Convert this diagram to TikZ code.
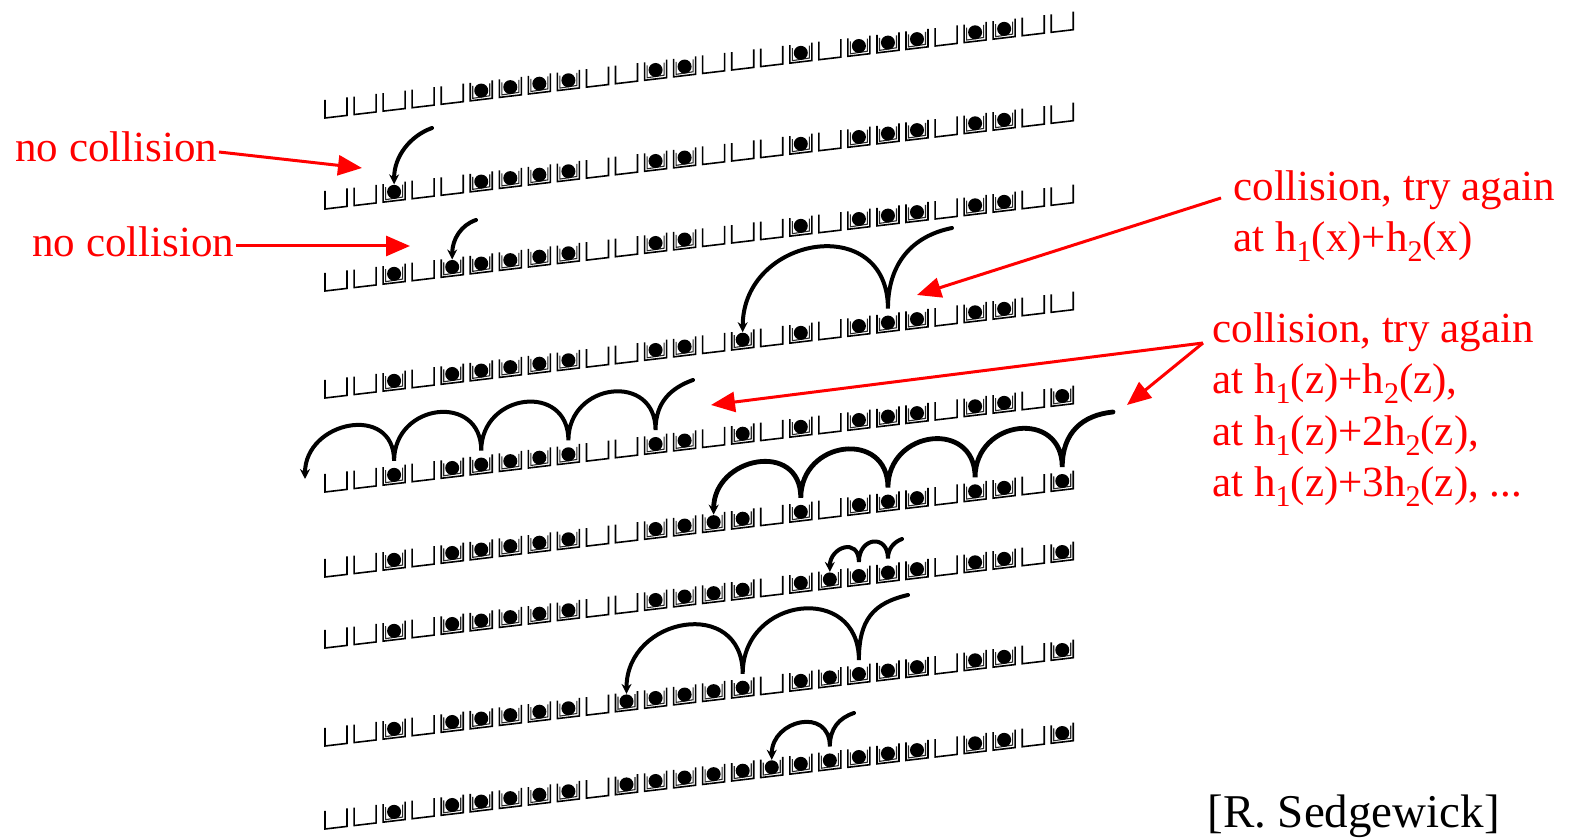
\documentclass[tikz,border=0pt]{standalone}
\usepackage{fontspec}
\setmainfont{Liberation Serif}
\usetikzlibrary{arrows.meta}

\newcommand\sbs[1]{\raisebox{-5pt}{\fontsize{15}{15}\selectfont #1}}

\tikzset{
  cellline/.style={line width=0.8pt, black},
  innerline/.style={line width=0.55pt, black!85},
  probe/.style={line width=2pt, black, line cap=round, -{Stealth[length=5pt,width=5pt]}},
  redarrow/.style={line width=1.5pt, red, -{Triangle[length=12pt,width=10pt]}},
  redtext/.style={text=red, inner sep=0pt, anchor=base west, font=\fontsize{21.5}{25.5}\selectfont},
}

\newcommand\hashrow[3]{%
  \foreach \i in {1,...,26}{%
    \pgfmathsetmacro\xa{325+29.05*(\i-1)}%
    \pgfmathsetmacro\xb{\xa+22}%
    \pgfmathsetmacro\ya{#2-0.118*(\xa-325)}%
    \pgfmathsetmacro\yb{#2-0.118*(\xb-325)}%
    \pgfmathsetmacro\xc{\xa+11}%
    \pgfmathsetmacro\yc{#2-0.118*(\xc-325)-9}%
    \draw[cellline] (\xa,\ya-18) -- (\xa,\ya) -- (\xb,\yb) -- (\xb,\yb-18);
    \coordinate (r#1c\i) at (\xc,\yc-14);
    \coordinate (r#1l\i) at (\xc,\yc-7.5);
  }%
  \foreach \i in {#3}{%
    \pgfmathsetmacro\xa{325+29.05*(\i-1)}%
    \pgfmathsetmacro\xb{\xa+22}%
    \pgfmathsetmacro\ya{#2-0.118*(\xa-325)}%
    \pgfmathsetmacro\yb{#2-0.118*(\xb-325)}%
    \pgfmathsetmacro\xc{\xa+11}%
    \pgfmathsetmacro\yc{#2-0.118*(\xc-325)-9}%
    \draw[innerline] (\xa+2.5,\ya-15) -- (\xa+2.5,\ya-2.5) -- (\xb-2.5,\yb-2.5) -- (\xb-2.5,\yb-15);
    \fill[black] (\xc,\yc) circle[radius=7];
  }%
}

\begin{document}
\begin{tikzpicture}[x=0.5pt,y=-0.5pt]
\useasboundingbox (0,0) rectangle (1570,838);
\fill[white] (0,0) rectangle (1570,838);

% rows of the table
\hashrow{1}{118}{6,7,8,9,12,13,17,19,20,21,23,24}
\hashrow{2}{209}{3,6,7,8,9,12,13,17,19,20,21,23,24}
\hashrow{3}{291}{3,5,6,7,8,9,12,13,17,19,20,21,23,24}
\hashrow{4}{398}{3,5,6,7,8,9,12,13,15,17,19,20,21,23,24}
\hashrow{5}{492}{3,5,6,7,8,9,12,13,15,17,19,20,21,23,24,26}
\hashrow{6}{577}{3,5,6,7,8,9,12,13,14,15,17,19,20,21,23,24,26}
\hashrow{7}{648}{3,5,6,7,8,9,12,13,14,15,17,18,19,20,21,23,24,26}
\hashrow{8}{746}{3,5,6,7,8,9,11,12,13,14,15,17,18,19,20,21,23,24,26}
\hashrow{9}{829}{3,5,6,7,8,9,11,12,13,14,15,16,17,18,19,20,21,23,24,26}

% tails of the probe paths
\coordinate (t2) at (432,128);
\coordinate (t3) at (476,220);
\coordinate (t4) at (952,228);
\coordinate (t5) at (693,380);
\coordinate (t6) at (1113,412);
\coordinate (t7) at (902,539);
\coordinate (t8) at (908,595);
\coordinate (t9) at (854,713);
\coordinate (w5) at (305,479);

% probe paths
\draw[probe] (t2) .. controls +(-22,8) and +(0,-28) .. (r2l3);
\draw[probe] (t3) .. controls +(-15,5) and +(0,-20) .. (r3l5);
\draw[probe] (t4) .. controls +(-40,8) and +(0,-45) .. (r4c20)
  .. controls +(0,-96.8) and +(0,-96.8) .. (r4l15);
\draw[probe] (t5) .. controls +(-22,8) and +(0,-28) .. (r5c12)
  .. controls +(0,-58) and +(0,-58) .. (r5c9)
  .. controls +(0,-58) and +(0,-58) .. (r5c6)
  .. controls +(0,-58) and +(0,-58) .. (r5c3)
  .. controls +(0,-58) and +(0,-58) .. (w5);
\draw[probe, line width=2.4pt] (t6) .. controls +(-30,3) and +(0,-35) .. (r6c26)
  .. controls +(0,-58) and +(0,-58) .. (r6c23)
  .. controls +(0,-58) and +(0,-58) .. (r6c20)
  .. controls +(0,-58) and +(0,-58) .. (r6c17)
  .. controls +(0,-58) and +(0,-58) .. (r6l14);
\draw[probe] (t7) .. controls +(-8,3) and +(0,-10) .. (r7c20)
  .. controls +(0,-25) and +(0,-25) .. (r7c19)
  .. controls +(0,-25) and +(0,-25) .. (r7l18);
\draw[probe] (t8) .. controls +(-35,8) and +(0,-40) .. (r8c19)
  .. controls +(0,-77.5) and +(0,-77.5) .. (r8c15)
  .. controls +(0,-77.5) and +(0,-77.5) .. (r8l11);
\draw[probe] (t9) .. controls +(-15,5) and +(0,-18) .. (r9c18)
  .. controls +(0,-40) and +(0,-40) .. (r9l16);

% red annotations
\node[redtext] (nc1) at (15,162) {no collision};
\node[redtext] (nc2) at (32,257) {no collision};
\node[redtext] (cx1) at (1233,201) {collision, try again};
\node[redtext] (cx2) at (1233,252) {at h\sbs{1}(x)+h\sbs{2}(x)};
\node[redtext] (cz1) at (1212,343) {collision, try again};
\node[redtext] (cz2) at (1212,394) {at h\sbs{1}(z)+h\sbs{2}(z),};
\node[redtext] (cz3) at (1212,446) {at h\sbs{1}(z)+2h\sbs{2}(z),};
\node[redtext] (cz4) at (1212,497) {at h\sbs{1}(z)+3h\sbs{2}(z), ...};

\coordinate (a1s) at (219,152);
\coordinate (a1e) at (362,168);
\coordinate (a2s) at (236,246);
\coordinate (a2e) at (410,246);
\coordinate (a3s) at (1221,198);
\coordinate (a3e) at (917,295);
\coordinate (a4s) at (1203,343);
\coordinate (a4e) at (711,405);
\coordinate (a5e) at (1127,405);

\draw[redarrow] (a1s) -- (a1e);
\draw[redarrow] (a2s) -- (a2e);
\draw[redarrow] (a3s) -- (a3e);
\draw[redarrow] (a4s) -- (a4e);
\draw[redarrow] (a4s) -- (a5e);

\node[inner sep=0pt, anchor=base west, font=\fontsize{23.5}{27}\selectfont] (src) at (1207,828) {[R. Sedgewick]};
\end{tikzpicture}
\end{document}
